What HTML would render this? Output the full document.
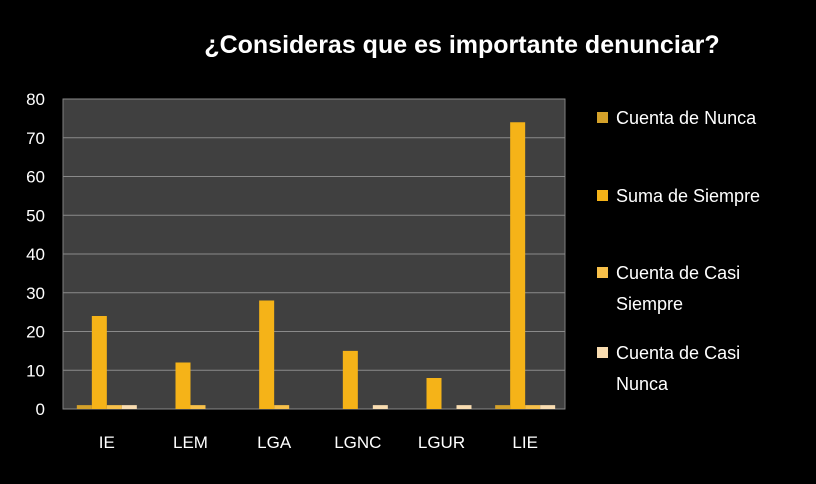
<!DOCTYPE html>
<html><head><meta charset="utf-8"><style>
body{margin:0;background:#000;}
svg{display:block;font-family:"Liberation Sans",sans-serif;}
</style></head><body>
<svg id="c" width="816" height="484">
<rect width="816" height="484" fill="#000"/>
<text x="462" y="53" text-anchor="middle" fill="#fff" font-size="25" font-weight="bold">¿Consideras que es importante denunciar?</text>
</svg>
<script>
const categories=["IE","LEM","LGA","LGNC","LGUR","LIE"];
const seriesNames=["Cuenta de Nunca","Suma de Siempre","Cuenta de Casi Siempre","Cuenta de Casi Nunca"];
const nunca=[1,0,0,0,0,1];
const siempre=[24,12,28,15,8,74];
const casiSiempre=[1,1,1,0,0,1];
const casiNunca=[1,0,0,1,1,1];
const yTicks=[0,10,20,30,40,50,60,70,80];
const colors=["#d4a12a","#f5b318","#f7c04a","#f8dcb0"];
const svg=document.getElementById('c');const NS="http://www.w3.org/2000/svg";
const L=63,R=565,T=99,B=409;
const y=v=>B-(v/80)*(B-T);
const gw=(R-L)/categories.length;const bw=15;
function mk(t,a){const e=document.createElementNS(NS,t);for(const k in a)e.setAttribute(k,a[k]);svg.appendChild(e);return e;}
const pa=mk('rect',{x:L,y:T,width:R-L,height:B-T,fill:'#404040',stroke:'#7f7f7f'});


yTicks.forEach(t=>{
 const g=mk('line',{x1:L,x2:R,y1:y(t),y2:y(t),stroke:'#8a8a8a','stroke-width':1});
 
 
 const tx=mk('text',{x:45,y:y(t)+6,'text-anchor':'end',fill:'#fff','font-size':17});
 tx.textContent=t;
 
 
});
const series=[nunca,siempre,casiSiempre,casiNunca];
categories.forEach((c,i)=>{
 const cx=L+gw*(i+0.5)+2;
 series.forEach((s,j)=>{
  const v=s[i];if(v<=0)return;
  const r=mk('rect',{x:cx-2*bw+j*bw,y:y(v),width:bw,height:B-y(v),fill:colors[j]});
  
  
 });
 const t=mk('text',{x:cx,y:448,'text-anchor':'middle',fill:'#fff','font-size':17});
 t.textContent=c;
 
 
});
const legY=[[124],[202],[279,310],[359,390]];
const legLines=[["Cuenta de Nunca"],["Suma de Siempre"],["Cuenta de Casi","Siempre"],["Cuenta de Casi","Nunca"]];
legLines.forEach((ls,j)=>{
 const sq=mk('rect',{x:597,y:legY[j][0]-12,width:11,height:11,fill:colors[j]});
 
 
 ls.forEach((l,k)=>{
  const t=mk('text',{x:616,y:legY[j][k],fill:'#fff','font-size':18});
  t.textContent=l;
  
  
 });
});
</script>
</body></html>
